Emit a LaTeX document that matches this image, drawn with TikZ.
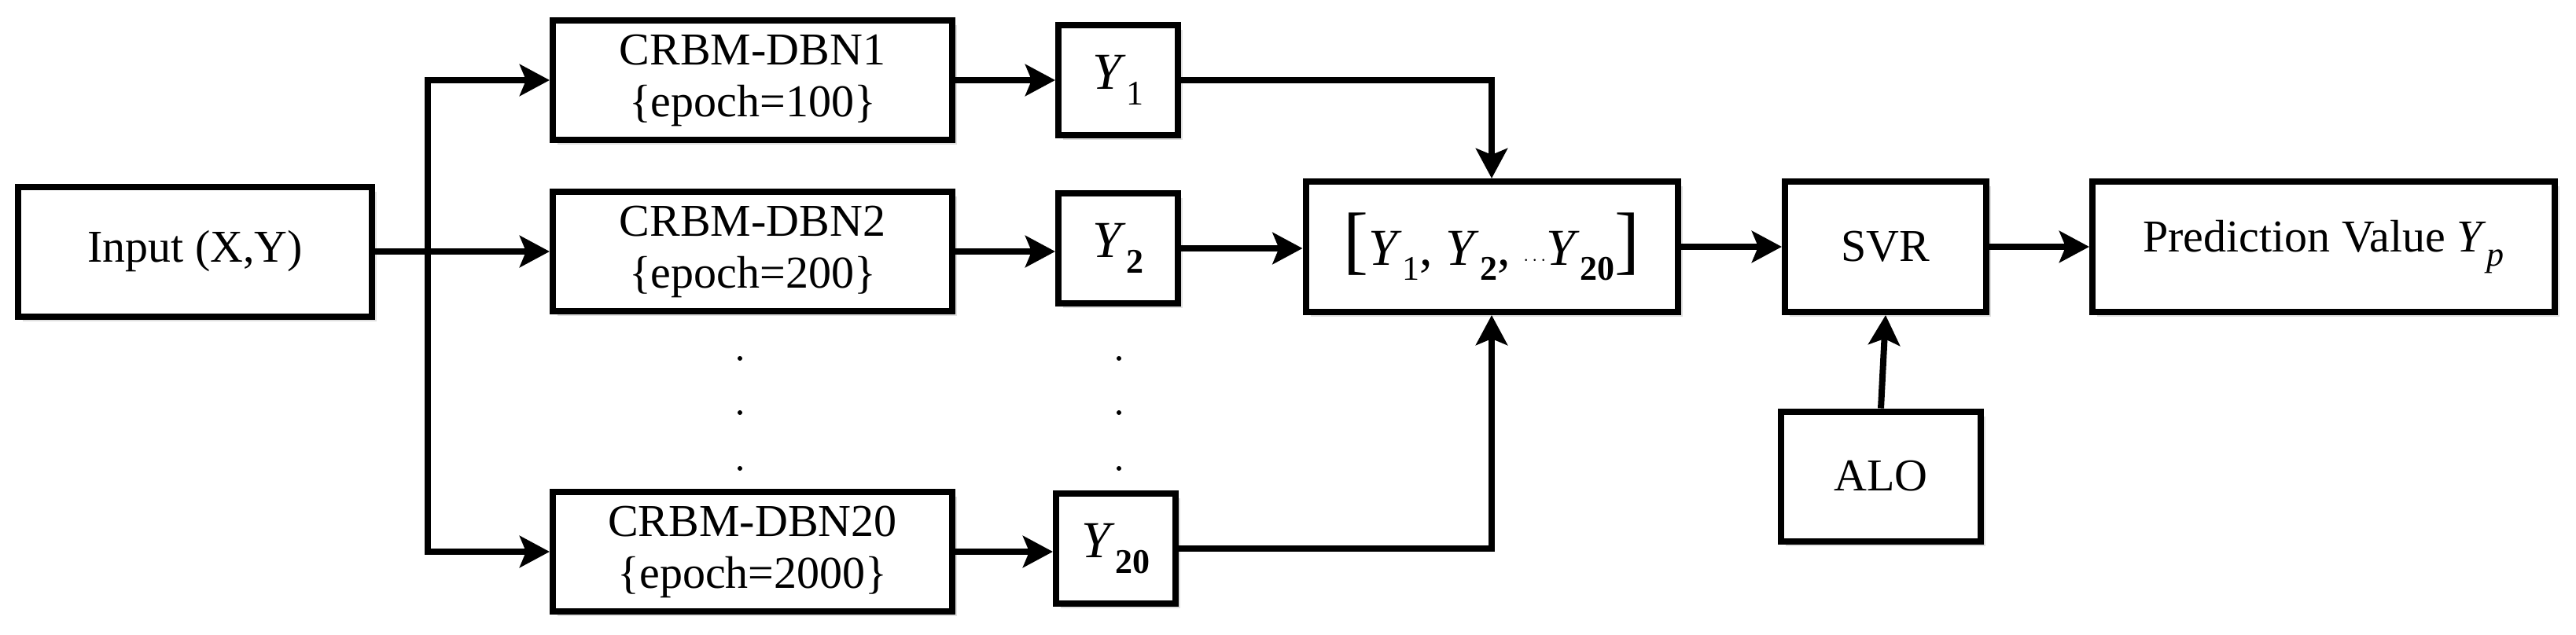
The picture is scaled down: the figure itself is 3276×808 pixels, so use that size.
\documentclass[tikz,border=0pt]{standalone}
\usepackage{fontspec}
\setmainfont{Liberation Serif}
\usetikzlibrary{arrows.meta,shadows}
\newcommand{\Ys}[1]{\textit{Y}\kern1pt\raisebox{-0.3em}{\fontsize{44}{44}\selectfont #1}}
\begin{document}
\begin{tikzpicture}[x=1pt,y=-1pt,
  box/.style={draw,line width=8pt,fill=white,inner sep=0pt,
    drop shadow={shadow xshift=6pt,shadow yshift=-6pt,fill=black!12,opacity=1},
    font=\fontsize{58}{66}\selectfont,align=center},
  ar/.style={line width=8pt,-{Stealth[length=38pt,width=40pt,inset=8pt]}},
  ln/.style={line width=8pt}]
\useasboundingbox (0,0) rectangle (3276,808);
\node[box,minimum width=450,minimum height=165] (in) at (248,320) {Input (X,Y)};
\node[box,minimum width=508,minimum height=152] (d1) at (957,102) {CRBM-DBN1\\\{epoch=100\}};
\node[box,minimum width=508,minimum height=152] (d2) at (957,320) {CRBM-DBN2\\\{epoch=200\}};
\node[box,minimum width=508,minimum height=152] (d20) at (957,702) {CRBM-DBN20\\\{epoch=2000\}};
\node[box,minimum width=152,minimum height=140,font=\fontsize{66}{66}\selectfont] (y1) at (1422,102) {\Ys{1}};
\node[box,minimum width=152,minimum height=140,font=\fontsize{66}{66}\selectfont] (y2) at (1422,316) {\Ys{\textbf{2}}};
\node[box,minimum width=152,minimum height=140,font=\fontsize{66}{66}\selectfont] (y20) at (1419,698) {\Ys{\textbf{20}}};
\node[box,minimum width=473,minimum height=166,font=\fontsize{66}{66}\selectfont] (c) at (1897,314) {{\fontsize{96}{96}\selectfont[}\Ys{1}, \Ys{\textbf{2}}, $\cdots$\Ys{\textbf{20}}{\fontsize{96}{96}\selectfont]}};
\node[box,minimum width=256,minimum height=166] (svr) at (2398,314) {SVR};
\node[box,minimum width=588,minimum height=166] (p) at (2955,314) {Prediction Value \Ys{\textit{p}}};
\node[box,minimum width=254,minimum height=165] (alo) at (2392,606) {ALO};
\foreach \x in {941,1423} \foreach \y in {456,525,596} \fill (\x,\y) circle (3pt);
\coordinate (s) at (544,320);
\draw[ln] (in.east) -- (s);
\draw[ar] (s) |- (d1.west);
\draw[ar] (s) -- (d2.west);
\draw[ar] (s) |- (d20.west);
\draw[ar] (d1.east) -- (y1.west);
\draw[ar] (d2.east) -- (y2.west |- d2.east);
\draw[ar] (d20.east) -- (y20.west |- d20.east);
\draw[ar] (y1.east) -| (c.north);
\draw[ar] (y20.east) -| (c.south);
\draw[ar] (y2.east) -- (c.west |- y2.east);
\draw[ar] (c.east) -- (svr.west);
\draw[ar] (svr.east) -- (p.west);
\draw[ar] (alo.north) -- (svr.south);
\end{tikzpicture}
\end{document}
